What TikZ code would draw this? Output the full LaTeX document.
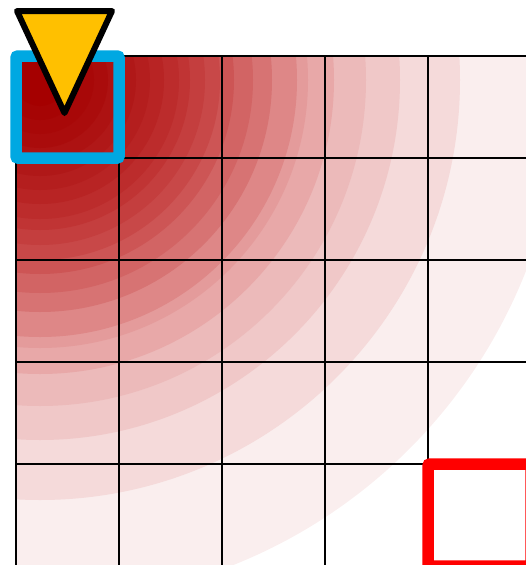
\documentclass[tikz,border=0pt]{standalone}
\usepackage{tikz}
\usetikzlibrary{calc}
\definecolor{startblue}{RGB}{0,168,226}
\definecolor{goalred}{RGB}{255,0,0}
\definecolor{markergold}{RGB}{255,192,0}
\begin{document}
\begin{tikzpicture}[
  x=1pt,y=-1pt,
  gridline/.style={line width=2.6pt,draw=black},
  startbox/.style={line width=11.5pt,draw=startblue,rounded corners=2pt},
  goalbox/.style={line width=11.5pt,draw=goalred,rounded corners=2pt},
  marker/.style={fill=markergold,draw=black,line width=6pt,line join=round}
]
\useasboundingbox (0,0) rectangle (526,565);
\clip (0,0) rectangle (526,565);
\def\cw{103}
\def\ch{102}
\coordinate (org) at (16,56);
\coordinate (heat) at (40,80);

% heat bands
\begin{scope}
\clip (org) rectangle (540,580);
\foreach \r/\red/\gb in {522/250/238,420/245/218,360/240/200,326/236/186,
    294/232/168,268/228/155,257/222/135,232/215/115,213/210/100,194/205/85,
    180/200/72,165/196/62,150/192/52,139/188/44,124/184/36,110/180/30,
    96/176/24,82/173/18,68/170/12,54/168/8,40/166/4,26/165/0}
  \fill[fill={rgb,255:red,\red;green,\gb;blue,\gb}] (heat) circle (\r);
\end{scope}

% grid
\foreach \i in {0,...,5} {
  \draw[gridline] ($(org)+(\i*\cw,0)$) -- ++(0,5*\ch+10);
  \draw[gridline] ($(org)+(0,\i*\ch)$) -- ++(5*\cw+10,0);
}

\draw[startbox] (org) rectangle ++(\cw,\ch);
\draw[goalbox] ($(org)+(4*\cw,4*\ch)$) rectangle ++(\cw,\ch);

\draw[marker] (17,11) -- (112,11) -- (64.5,113) -- cycle;
\end{tikzpicture}
\end{document}
